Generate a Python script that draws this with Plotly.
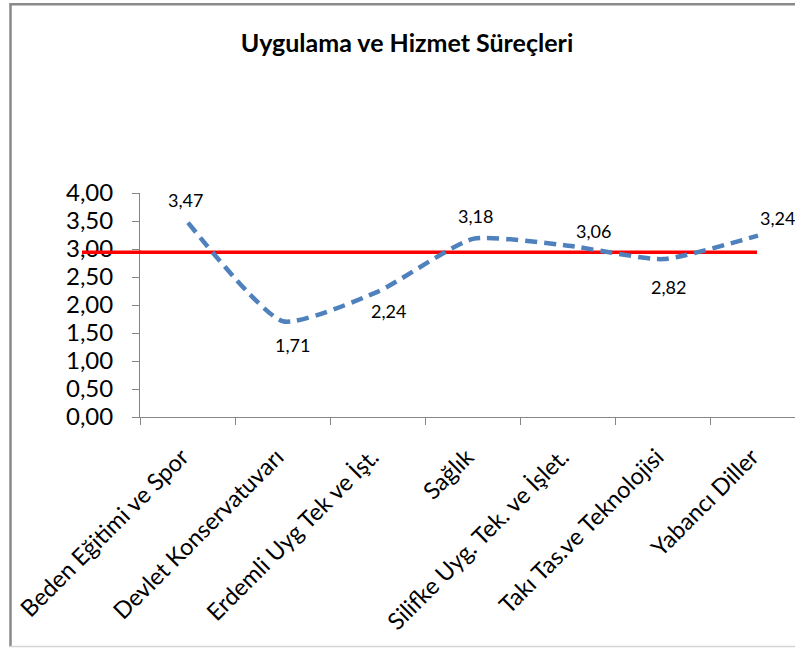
import plotly.graph_objects as go

categories = ["Beden Eğitimi ve Spor", "Devlet Konservatuvarı", "Erdemli Uyg Tek ve İşt.",
              "Sağlık", "Silifke Uyg. Tek. ve İşlet.", "Takı Tas.ve Teknolojisi", "Yabancı Diller"]
values = [3.47, 1.71, 2.24, 3.18, 3.06, 2.82, 3.24]
value_labels = ["3,47", "1,71", "2,24", "3,18", "3,06", "2,82", "3,24"]
reference_value = 2.94
y_ticks = [0, 0.5, 1, 1.5, 2, 2.5, 3, 3.5, 4]

W, H = 795, 648
ML, MR, MT, MB = 140, 0, 193, 231
PW = W - ML - MR
PH = H - MT - MB

def px_x(px):
    return (px - ML) / PW

def px_y(py):
    return (H - MB - py) / PH

FONT = "Lato"

fig = go.Figure()
fig.add_trace(go.Scatter(
    x=categories, y=values, mode="lines",
    line=dict(color="#4F81BD", width=4.5, dash="12px,7px", shape="spline", smoothing=0.55),
    hoverinfo="skip", showlegend=False,
))

# label offsets (pixels) relative to points
offsets = [(-3, -23), (9, 24), (10, 19), (2, -23), (25, -15), (5, 28), (19, -18)]
for c, v, t, (dx, dy) in zip(categories, values, value_labels, offsets):
    fig.add_annotation(x=c, y=v, text=t, showarrow=False, xshift=dx, yshift=-dy,
                       font=dict(family=FONT, size=18, color="black"))

# red reference line (left part over tick labels, main part under data line)
fig.add_shape(type="line", xref="paper", yref="y", x0=px_x(82), x1=px_x(141), y0=reference_value,
              y1=reference_value, line=dict(color="#FF0000", width=3.5), layer="above")
fig.add_shape(type="line", xref="paper", yref="y", x0=px_x(140), x1=px_x(757), y0=reference_value,
              y1=reference_value, line=dict(color="#FF0000", width=3.5), layer="below")

# outer frame
fig.add_shape(type="line", xref="paper", yref="paper", x0=px_x(10.5), x1=px_x(10.5),
              y0=px_y(3.5), y1=px_y(647), line=dict(color="#8a8a8a", width=2.5))
fig.add_shape(type="line", xref="paper", yref="paper", x0=px_x(9.5), x1=px_x(800),
              y0=px_y(4.3), y1=px_y(4.3), line=dict(color="#8a8a8a", width=2.5))
fig.add_shape(type="line", xref="paper", yref="paper", x0=px_x(9.5), x1=px_x(800),
              y0=px_y(646.5), y1=px_y(646.5), line=dict(color="#d4d4d4", width=1.5))

fig.update_layout(
    width=W, height=H,
    margin=dict(l=ML, r=MR, t=MT, b=MB),
    paper_bgcolor="white", plot_bgcolor="white",
    separators=",.",
    title=dict(text="<b>Uygulama ve Hizmet Süreçleri</b>", xref="container", yref="container",
               x=407 / W, y=1 - 43 / H, xanchor="center", yanchor="middle",
               font=dict(family=FONT, size=25, color="black")),
    xaxis=dict(type="category", range=[-48 / 95, -48 / 95 + PW / 95],
               showline=True, linecolor="#868686", linewidth=1,
               ticks="outside", ticklen=7, tickcolor="#868686", tickson="boundaries",
               tickangle=-45, tickfont=dict(family=FONT, size=23.5, color="black"),
               ticklabelstandoff=16, ticklabelshift=-6,
               showgrid=False, zeroline=False, fixedrange=True),
    yaxis=dict(range=[0, 4], tickvals=y_ticks, tickformat=".2f",
               showline=True, linecolor="#868686", linewidth=1,
               ticks="outside", ticklen=7, tickcolor="#868686", ticklabelstandoff=14,
               tickfont=dict(family=FONT, size=24, color="black"),
               showgrid=False, zeroline=False, fixedrange=True),
)

fig.write_html("out.html", config={"displayModeBar": False},
               post_script="document.body.style.margin='0px';")
